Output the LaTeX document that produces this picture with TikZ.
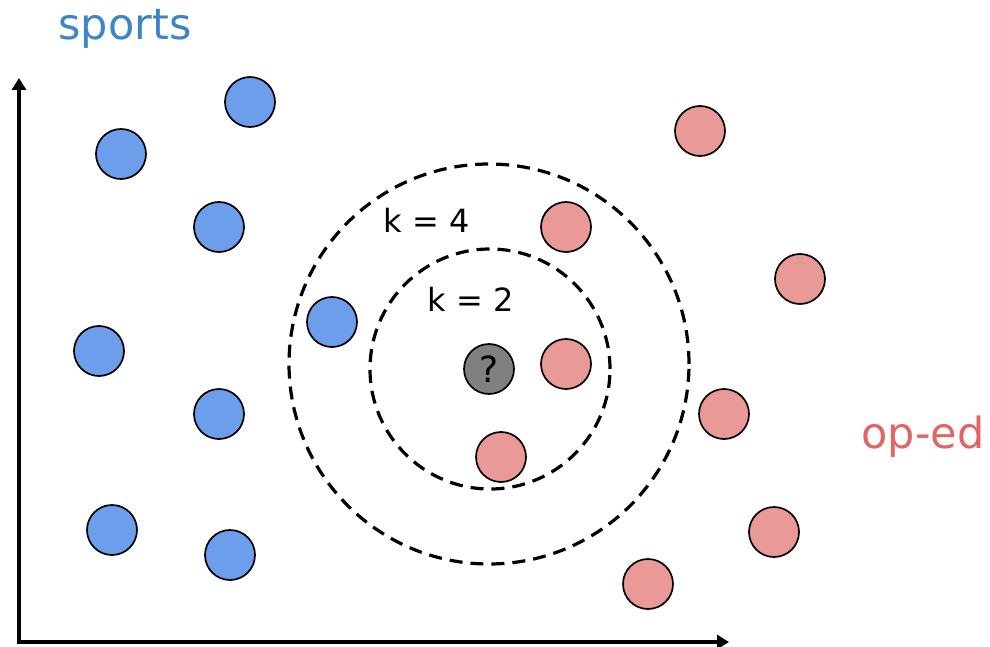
\documentclass[tikz,border=0pt]{standalone}
\usepackage{fontspec}
\setmainfont{DejaVu Sans}
\usetikzlibrary{arrows.meta}
\definecolor{bluept}{HTML}{6D9EEB}
\definecolor{redpt}{HTML}{EA9999}
\definecolor{graypt}{HTML}{808080}
\definecolor{sportsc}{HTML}{3D85C6}
\definecolor{opedc}{HTML}{E06666}
\tikzset{
  pt/.style={circle, draw=black, line width=1.7pt, minimum size=50pt, inner sep=0pt},
  bpt/.style={pt, fill=bluept},
  rpt/.style={pt, fill=redpt},
  qpt/.style={pt, fill=graypt, font=\fontsize{36}{40}\selectfont},
  ring/.style={circle, draw=black, line width=3.2pt, dash pattern=on 13pt off 8pt, inner sep=0pt},
  klabel/.style={font=\fontsize{32}{36}\selectfont},
  cls/.style={font=\fontsize{43}{50}\selectfont},
  axis/.style={line width=4.5pt, {Triangle[length=12pt,width=14pt]}-{Triangle[length=12pt,width=14pt]}}
}
\begin{document}
\begin{tikzpicture}[x=1pt,y=-1pt]
\useasboundingbox (0,0) rectangle (990,647);
% rings
\node[ring, minimum size=400pt] (outer) at (489,364) {};
\node[ring, minimum size=240pt] (inner) at (490,369) {};
% axes
\coordinate (ytip) at (19,78);
\coordinate (orig) at (19,642);
\coordinate (xtip) at (729,642);
\draw[axis] (ytip) -- (orig) -- (xtip);
% blue
\node[bpt] (b1) at (250,102) {};
\node[bpt] (b2) at (121,154) {};
\node[bpt] (b3) at (219,227) {};
\node[bpt] (b4) at (99,351) {};
\node[bpt] (b5) at (332,322) {};
\node[bpt] (b6) at (219,414) {};
\node[bpt] (b7) at (112,530) {};
\node[bpt] (b8) at (230,555) {};
% red
\node[rpt] (r1) at (700,131) {};
\node[rpt] (r2) at (566,227) {};
\node[rpt] (r3) at (800,279) {};
\node[rpt] (r4) at (566,364) {};
\node[rpt] (r5) at (724,414) {};
\node[rpt] (r6) at (501,457) {};
\node[rpt] (r7) at (774,532) {};
\node[rpt] (r8) at (648,584) {};
% query
\node[qpt] (q) at (489,369) {?};
% labels
\node[klabel] (k4) at (427,220) {k = 4};
\node[klabel] (k2) at (471,299) {k = 2};
\node[cls, text=sportsc] (sports) at (125,29) {sports};
\node[cls, text=opedc] (oped) at (923,437) {op-ed};
\end{tikzpicture}
\end{document}
